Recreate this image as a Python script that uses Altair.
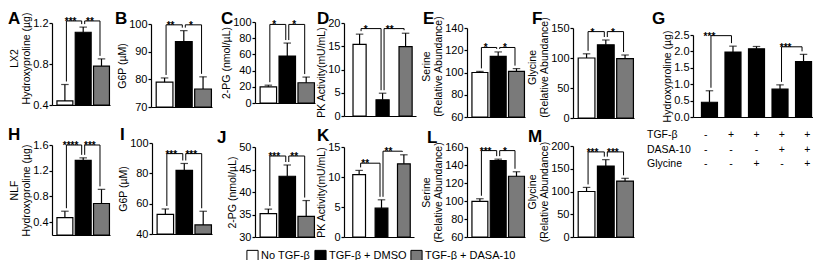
import altair as alt
import pandas as pd

FONT = "Liberation Sans"
W, H = 805, 252          # whole view (autosize none, padding 0)
M = 8                    # page margin (image px -> view px)

# ---------------- data ----------------
groups = ["No TGF-β", "TGF-β + DMSO", "TGF-β + DASA-10"]
group_fills = ["#ffffff", "#000000", "#7a7a7a"]

A_mean = [0.44, 1.11, 0.78];   A_err = [0.16, 0.05, 0.07]
B_mean = [79, 93.6, 76.5];     B_err = [1.5, 4, 4.4]
C_mean = [20, 58, 25];         C_err = [2, 16, 7]
D_mean = [15.4, 3.5, 14.9];    D_err = [2.2, 1.4, 2.9]
E_mean = [100, 114.5, 101];    E_err = [1, 4, 2.5]
F_mean = [100, 122, 99];       F_err = [7, 8, 6]
G_mean = [0.45, 1.98, 2.08, 0.85, 1.69]
G_err = [0.35, 0.18, 0.07, 0.13, 0.22]
H_mean = [0.47, 1.36, 0.69];   H_err = [0.1, 0.04, 0.22]
I_mean = [53, 82, 46];         I_err = [3.5, 4.5, 9]
J_mean = [35.2, 43.5, 34.6];   J_err = [1, 2.5, 3.5]
K_mean = [10.4, 4.8, 12.2];    K_err = [0.7, 1.4, 1.5]
L_mean = [99.5, 145, 127.5];   L_err = [3, 1.5, 5]
M_mean = [100, 156, 123];      M_err = [9, 14, 6]

# brackets: (bar i, bar j, height, stars)
A_sig = [(0, 1, 1.22, "***"), (1, 2, 1.22, "**")]
B_sig = [(0, 1, 99.7, "**"), (1, 2, 99.7, "*")]
C_sig = [(0, 1, 97, "*"), (1, 2, 97, "*")]
D_sig = [(0, 1, 18.8, "*"), (1, 2, 18.8, "**")]
E_sig = [(0, 1, 122.5, "*"), (1, 2, 122.5, "*")]
F_sig = [(0, 1, 144, "*"), (1, 2, 144, "*")]
G_sig = [(0, 1, 2.48, "***"), (3, 4, 2.14, "***")]
H_sig = [(0, 1, 1.6, "****"), (1, 2, 1.6, "***")]
I_sig = [(0, 1, 93, "***"), (1, 2, 93, "***")]
J_sig = [(0, 1, 48, "***"), (1, 2, 48, "**")]
K_sig = [(0, 1, 12.3, "**"), (1, 2, 14.3, "**")]
L_sig = [(0, 1, 156, "***"), (1, 2, 156, "*")]
M_sig = [(0, 1, 187, "***"), (1, 2, 187, "***")]

table_rows = ["TGF-β", "DASA-10", "Glycine"]
table_TGF = ["-", "+", "+", "+", "+"]
table_DASA = ["-", "-", "-", "+", "+"]
table_Gly = ["-", "-", "+", "-", "+"]

# ---------------- layout (image pixels) ----------------
PAD3 = (0.13, 0.15, 0.9)
PADK = (0.43, 0.28, 0.7)
PADG = (0.32, 0.36, 0.5)

panels = [
    # letter, y title, domain, ticks, fmt, mean, err, sig, box(L,R,T,B), pad, letter pos, title y
    ("A", ["LX2", "Hydroxyproline (µg)"], [0.4, 1.2], [0.4, 0.8, 1.2], ".1f", A_mean, A_err, A_sig, (52, 110, 23, 105), PAD3, (8, 24), 58),
    ("B", "G6P (µM)", [70, 100], [70, 80, 90, 100], ".0f", B_mean, B_err, B_sig, (151, 212, 24, 107), PAD3, (115, 24), None),
    ("C", "2-PG (nmol/µL)", [0, 100], [0, 20, 40, 60, 80, 100], ".0f", C_mean, C_err, C_sig, (255, 315, 22, 103), PAD3, (221, 24), None),
    ("D", "PK Activity(mU/mL)", [0, 20], [0, 5, 10, 15, 20], ".0f", D_mean, D_err, D_sig, (344, 416, 23, 116), PADK, (317, 24), 72),
    ("E", ["Serine", "(Relative Abundance)"], [60, 140], [60, 80, 100, 120, 140], ".0f", E_mean, E_err, E_sig, (467, 525, 28, 117), PAD3, (423, 24), 66),
    ("F", ["Glycine", "(Relative Abundance)"], [0, 150], [0, 50, 100, 150], ".0f", F_mean, F_err, F_sig, (573, 634, 28, 118), PAD3, (532, 24), 67),
    ("G", "Hydroxyproline (µg)", [0, 2.5], [0, 0.5, 1, 1.5, 2, 2.5], ".1f", G_mean, G_err, G_sig, (693, 820, 35, 117), PADG, (652, 24), None),
    ("H", ["NLF", "Hydroxyproline (µg)"], [0.2, 1.6], [0.4, 0.8, 1.2, 1.6], ".1f", H_mean, H_err, H_sig, (52, 110, 145, 235), PAD3, (8, 140), None),
    ("I", "G6P (µM)", [40, 100], [40, 60, 80, 100], ".0f", I_mean, I_err, I_sig, (152, 212, 143, 234), PAD3, (120, 140), None),
    ("J", "2-PG (nmol/µL)", [30, 50], [30, 35, 40, 45, 50], ".0f", J_mean, J_err, J_sig, (255, 315, 147, 237), PAD3, (217, 143), None),
    ("K", "PK Activity(mU/mL)", [0, 15], [0, 5, 10, 15], ".0f", K_mean, K_err, K_sig, (344, 414, 147, 237), PADK, (317, 141), None),
    ("L", ["Serine", "(Relative Abundance)"], [60, 160], [60, 80, 100, 120, 140, 160], ".0f", L_mean, L_err, L_sig, (467, 525, 147, 237), PAD3, (427, 143), None),
    ("M", ["Glycine", "(Relative Abundance)"], [0, 200], [0, 50, 100, 150, 200], ".0f", M_mean, M_err, M_sig, (573, 634, 146, 237), PAD3, (528, 142), None),
]

LEGEND = alt.Legend(
    orient="none", legendX=238, legendY=241, direction="horizontal", title=None,
    symbolType="square", symbolSize=125, symbolStrokeColor="black", symbolStrokeWidth=1,
    labelFont=FONT, labelFontSize=11, labelColor="black", labelOffset=2,
    columnPadding=1, padding=0,
)
FILL = alt.Fill("group:N", scale=alt.Scale(domain=groups, range=group_fills), legend=LEGEND)

all_layers = []


def make_panel(letter, title, domain, ticks, fmt, means, errs, sig, box, pad, lpos, title_y):
    L, R, T, B = box
    pi, po, al = pad
    n = len(means)
    step = (R - L) / (n - pi + 2 * po)
    half_gap = pi * step / 2
    cats = [f"{letter}{k}" for k in range(n)]
    df = pd.DataFrame({"cat": cats, "mean": means,
                       "top": [m + e for m, e in zip(means, errs)]})
    three = n == 3
    if three:
        df["group"] = groups

    def xs():
        return alt.Scale(domain=cats, range=[L - M, R - M], paddingInner=pi,
                         paddingOuter=po, align=al)

    def ys():
        return alt.Scale(domain=domain, range=[B - M, T - M], nice=False, zero=False)

    def xn(field):
        return alt.X(field, scale=xs(), axis=None, sort=cats)

    def yn(field):
        return alt.Y(field, scale=ys(), axis=None)

    xax = alt.Axis(orient="bottom", offset=(B - M) - H, labels=False, ticks=False,
                   title=None, domainColor="black", domainWidth=1.2, grid=False)
    yargs = dict(orient="left", offset=-(L - M), values=ticks, title=title,
                 grid=False, format=fmt)
    if title_y is not None:
        yargs["titleY"] = title_y - M
    yax = alt.Axis(**yargs)
    base = alt.Chart(df)
    bars = base.mark_bar(stroke="black", strokeWidth=1.2).encode(
        x=alt.X("cat:N", scale=xs(), axis=xax, sort=cats),
        y=alt.Y("mean:Q", scale=ys(), axis=yax), y2=alt.datum(domain[0]),
        fill=FILL if three else alt.value("black"))
    err = base.mark_rule(color="black", strokeWidth=1.2).encode(
        x=xn("cat:N"), y=yn("mean:Q"), y2="top:Q")
    cap = base.mark_tick(color="black", thickness=1.2, size=7.5).encode(
        x=xn("cat:N"), y=yn("top:Q"))

    tops = df["top"].tolist()
    sdf = pd.DataFrame({
        "x1": [cats[i] for i, j, h, s in sig],
        "x2": [cats[j] for i, j, h, s in sig],
        "h": [h for i, j, h, s in sig],
        "t1": [tops[i] for i, j, h, s in sig],
        "t2": [tops[j] for i, j, h, s in sig],
        "stars": [s for i, j, h, s in sig],
    })
    sb = alt.Chart(sdf)
    hline = sb.mark_rule(color="black", strokeWidth=1, xOffset=1.5, x2Offset=-1.5).encode(
        x=xn("x1:N"), x2="x2:N", y=yn("h:Q"))
    leg1 = sb.mark_rule(color="black", strokeWidth=1, xOffset=1.5, y2Offset=-3).encode(
        x=xn("x1:N"), y=yn("h:Q"), y2="t1:Q")
    leg2 = sb.mark_rule(color="black", strokeWidth=1, xOffset=-1.5, y2Offset=-3).encode(
        x=xn("x2:N"), y=yn("h:Q"), y2="t2:Q")
    stars = sb.mark_text(font=FONT, fontSize=10, fontWeight="bold", baseline="alphabetic",
                         align="center", dy=4, dx=half_gap).encode(
        x=alt.X("x1:N", scale=xs(), axis=None, sort=cats, bandPosition=1),
        y=yn("h:Q"), text="stars:N")

    letter_df = pd.DataFrame({"t": [letter]})
    let = alt.Chart(letter_df).mark_text(
        font=FONT, fontSize=17, fontWeight="bold", align="left", baseline="alphabetic"
    ).encode(x=alt.value(lpos[0] - M), y=alt.value(lpos[1] - M), text="t:N")

    all_layers.extend([bars, err, cap, hline, leg1, leg2, stars, let])

    if letter == "G":
        tdf = pd.DataFrame({
            "cat": cats * 3,
            "row": [r for r in table_rows for _ in range(5)],
            "sign": table_TGF + table_DASA + table_Gly,
        })

        def ty():
            return alt.Y("row:N", axis=None,
                         scale=alt.Scale(type="point", domain=table_rows,
                                         range=[127, 156], padding=0))
        signs = alt.Chart(tdf).mark_text(font=FONT, fontSize=10.5, color="black",
                                         baseline="middle").encode(
            x=xn("cat:N"), y=ty(), text="sign:N")
        rdf = pd.DataFrame({"row": table_rows})
        rlab = alt.Chart(rdf).mark_text(font=FONT, fontSize=10.5, color="black",
                                        align="left", baseline="middle").encode(
            x=alt.value(647 - M), y=ty(), text="row:N")
        all_layers.extend([signs, rlab])


for p in panels:
    make_panel(*p)

chart = alt.layer(*all_layers).resolve_scale(x="independent", y="independent").properties(
    width=W, height=H, autosize="none", padding=0, background="white"
).configure_view(stroke=None).configure_axis(
    labelFont=FONT, titleFont=FONT, labelFontSize=11, titleFontSize=10.5,
    labelColor="black", titleColor="black", tickColor="black", domainColor="black",
    tickSize=3, tickWidth=1.2, domainWidth=1.2, labelPadding=1, titlePadding=1.5,
    titleFontWeight="normal", titleLineHeight=12,
)

chart.save("out.html", embed_options={"renderer": "svg", "actions": False})
